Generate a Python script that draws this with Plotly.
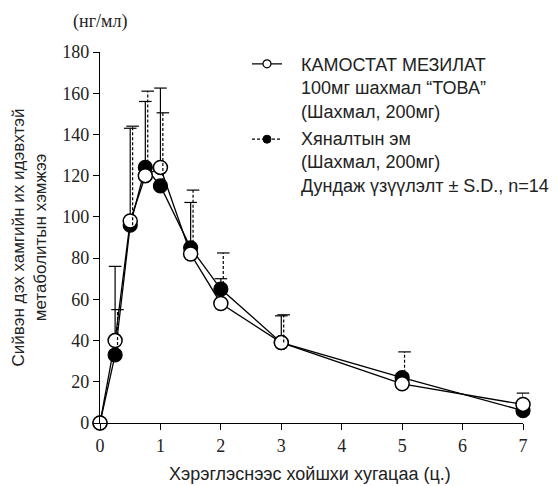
import plotly.graph_objects as go

# ---- data ----
time_h = [0, 0.25, 0.5, 0.75, 1, 1.5, 2, 3, 5, 7]
kamostat_mean = [0, 40, 98, 120, 124, 82, 58, 39, 19, 9]
kamostat_sd = [0, 36, 45, 36, 38.5, 25, 12, 13, 5, 5.5]
control_mean = [0, 33, 96, 124, 115, 85, 65, 39, 22, 6]
control_sd = [0, 22, 48, 37, 35.5, 28, 17.5, 13.5, 12.5, 8.5]
x_ticks = [0, 1, 2, 3, 4, 5, 6, 7]
y_ticks = [0, 20, 40, 60, 80, 100, 120, 140, 160, 180]

legend_kamostat = ["КАМОСТАТ МЕЗИЛАТ", "100мг шахмал “ТОВА”", "(Шахмал, 200мг)"]
legend_control = ["Хяналтын эм", "(Шахмал, 200мг)", "Дундаж үзүүлэлт ± S.D., n=14"]
y_title = "Сийвэн дэх хамгийн их идэвхтэй<br>метаболитын хэмжээ"
x_title = "Хэрэглэснээс хойшхи хугацаа (ц.)"
unit_label = "(нг/мл)"

SANS = "Liberation Sans"
SERIF = "Liberation Serif"
INK = "#222222"


def bar_paths(t, m, s):
    xs, ys = [], []
    for ti, mi, si in zip(t, m, s):
        if si > 0:
            xs += [ti, ti, None]
            ys += [mi, mi + si, None]
    return xs, ys


def caps(t, m, s):
    xs, ys = [], []
    for ti, mi, si in zip(t, m, s):
        if si > 0:
            xs.append(ti)
            ys.append(mi + si)
    return xs, ys


fig = go.Figure()

# error bars: KAMOSTAT (solid)
bx, by = bar_paths(time_h, kamostat_mean, kamostat_sd)
fig.add_trace(go.Scatter(x=bx, y=by, mode="lines", line=dict(color="black", width=1.2),
                         showlegend=False, hoverinfo="skip", cliponaxis=False))
cx, cy = caps(time_h, kamostat_mean, kamostat_sd)
fig.add_trace(go.Scatter(x=cx, y=cy, mode="markers",
                         marker=dict(symbol="line-ew", size=9, line=dict(color="black", width=1.2)),
                         showlegend=False, hoverinfo="skip", cliponaxis=False))

# error bars: control (dashed), drawn on a slightly shifted overlay axis
bx, by = bar_paths(time_h, control_mean, control_sd)
fig.add_trace(go.Scatter(x=bx, y=by, mode="lines", xaxis="x2",
                         line=dict(color="black", width=1.2, dash="3px,2px"),
                         showlegend=False, hoverinfo="skip", cliponaxis=False))
cx, cy = caps(time_h, control_mean, control_sd)
fig.add_trace(go.Scatter(x=cx, y=cy, mode="markers", xaxis="x2",
                         marker=dict(symbol="line-ew", size=9, line=dict(color="black", width=1.2)),
                         showlegend=False, hoverinfo="skip", cliponaxis=False))

# series: control (filled)
fig.add_trace(go.Scatter(x=time_h, y=control_mean, mode="lines+markers",
                         line=dict(color="black", width=1.3),
                         marker=dict(symbol="circle", size=14, color="black",
                                     line=dict(color="black", width=1.2)),
                         showlegend=False, cliponaxis=False))
# series: KAMOSTAT (open)
fig.add_trace(go.Scatter(x=time_h, y=kamostat_mean, mode="lines+markers",
                         line=dict(color="black", width=1.3),
                         marker=dict(symbol="circle", size=14, color="white",
                                     line=dict(color="black", width=1.5)),
                         showlegend=False, cliponaxis=False))

# legend symbols (text is placed with annotations)
fig.add_trace(go.Scatter(x=[None], y=[None], mode="lines+markers", name=" ",
                         legend="legend",
                         line=dict(color="black", width=1.2),
                         marker=dict(symbol="circle", size=8, color="white",
                                     line=dict(color="black", width=1.2))))
fig.add_trace(go.Scatter(x=[None], y=[None], mode="lines+markers", name=" ",
                         legend="legend2",
                         line=dict(color="black", width=1.2, dash="3px,2px"),
                         marker=dict(symbol="circle", size=8, color="black",
                                     line=dict(color="black", width=1))))

axis_common = dict(showline=True, linecolor="black", linewidth=1.2, ticks="outside",
                   ticklen=6, tickwidth=1.2, tickcolor="black", showgrid=False,
                   zeroline=False, automargin=False,
                   tickfont=dict(family=SERIF, size=18, color=INK))

legend_common = dict(xanchor="left", yanchor="middle", bgcolor="rgba(0,0,0,0)",
                     font=dict(family=SANS, size=12, color=INK), borderwidth=0)

fig.update_layout(
    width=557, height=486,
    margin=dict(l=100, r=34, t=52, b=63),
    paper_bgcolor="white", plot_bgcolor="white",
    xaxis=dict(range=[0, 7], tickvals=x_ticks, **axis_common),
    xaxis2=dict(range=[-0.04, 6.96], overlaying="x", visible=False),
    yaxis=dict(range=[0, 180], tickvals=y_ticks, **axis_common,
               title=dict(text=y_title, font=dict(family=SANS, size=17, color=INK), standoff=11)),
    legend=dict(x=0.3475, y=0.968, **legend_common),
    legend2=dict(x=0.3475, y=0.765, **legend_common),
    annotations=[
        dict(text=unit_label, xref="paper", yref="paper", x=0, y=1.081,
             xanchor="center", yanchor="middle", showarrow=False,
             font=dict(family=SERIF, size=18, color=INK)),
        dict(text=x_title, xref="paper", yref="paper", x=0.497, y=-0.138,
             xanchor="center", yanchor="middle", showarrow=False,
             font=dict(family=SANS, size=18, color=INK)),
        dict(text="<br>".join(legend_kamostat), xref="paper", yref="paper", x=0.4715, y=0.902,
             xanchor="left", yanchor="middle", align="left", showarrow=False,
             font=dict(family=SANS, size=18, color=INK)),
        dict(text="<br>".join(legend_control), xref="paper", yref="paper", x=0.4715, y=0.703,
             xanchor="left", yanchor="middle", align="left", showarrow=False,
             font=dict(family=SANS, size=18, color=INK)),
    ],
)

fig.write_html("out.html", post_script="document.body.style.margin='0';",
               config={"displayModeBar": False})
